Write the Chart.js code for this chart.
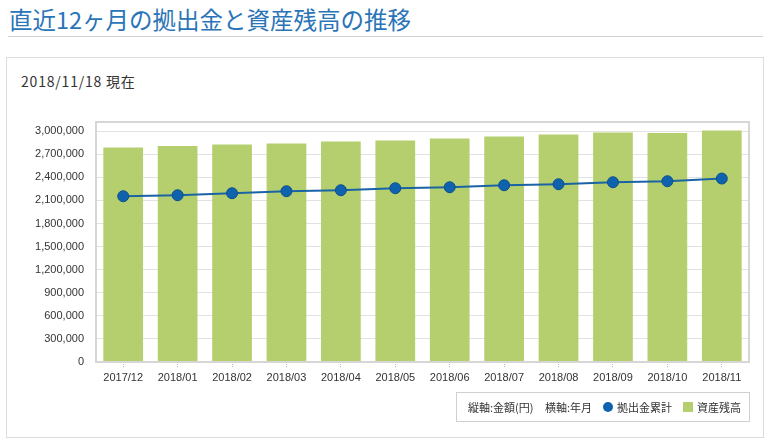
<!DOCTYPE html>
<html><head><meta charset="utf-8">
<script src="https://cdn.jsdelivr.net/npm/chart.js@4/dist/chart.umd.min.js"></script>
<style>
html,body{margin:0;padding:0;background:#fff;width:770px;height:441px;overflow:hidden;font-family:"Liberation Sans",Arial,sans-serif;}
#title{position:absolute;left:9px;top:2px;font-family:"Noto Sans CJK JP",sans-serif;font-size:23.5px;color:#2a74b8;white-space:nowrap;}
#rule{position:absolute;left:8px;top:36px;width:755px;height:1px;background:#cfcfcf;}
#panel{position:absolute;left:6px;top:57px;width:756px;height:379px;border:1px solid #dcdcdc;}
#sub{position:absolute;left:21px;top:71px;font-family:"Noto Sans CJK JP",sans-serif;font-size:14px;letter-spacing:0.8px;color:#333;white-space:nowrap;}
#cv{position:absolute;left:0;top:0;}
#legend{position:absolute;left:456px;top:392px;width:292px;height:28px;border:1px solid #d0d0d0;font-family:"Noto Sans CJK JP",sans-serif;font-size:11px;color:#333;}
#legend span{position:absolute;top:6px;white-space:nowrap;line-height:16px;}
#legend i{position:absolute;display:block;}
</style></head>
<body>
<div id="title">直近12ヶ月の拠出金と資産残高の推移</div>
<div id="rule"></div>
<div id="panel"></div>
<div id="sub">2018/11/18 現在</div>
<canvas id="cv" width="770" height="441"></canvas>
<div id="legend">
  <span style="left:11px">縦軸:金額(円)</span>
  <span style="left:88px">横軸:年月</span>
  <i style="left:146px;top:9px;width:10px;height:10px;border-radius:50%;background:#0f63ad;"></i>
  <span style="left:160px">拠出金累計</span>
  <i style="left:226px;top:9px;width:10px;height:10px;background:#b5cf6f;"></i>
  <span style="left:240px">資産残高</span>
</div>
<script>
const categories = ["2017/12","2018/01","2018/02","2018/03","2018/04","2018/05","2018/06","2018/07","2018/08","2018/09","2018/10","2018/11"];
const assetBalance = [2788000,2809000,2827000,2840000,2866000,2879000,2905000,2931000,2957000,2983000,2978000,3009000];
const contributionTotal = [2155000,2168000,2194000,2220000,2233000,2259000,2272000,2298000,2311000,2337000,2350000,2385000];
const yTicks = [0,300000,600000,900000,1200000,1500000,1800000,2100000,2400000,2700000,3000000];
const yMax = 3120000;

const frame = {
  id:'frame',
  afterDraw(chart){
    const a = chart.chartArea, c = chart.ctx;
    c.save();
    c.strokeStyle = '#d6d6d6';
    c.lineWidth = 2;
    c.strokeRect(a.left, a.top, a.right - a.left, a.bottom - a.top);
    c.restore();
  }
};

new Chart(document.getElementById('cv'), {
  data: {
    labels: categories,
    datasets: [
      {
        type:'line', label:'拠出金累計', data: contributionTotal, order:0,
        borderColor:'#1a64a6', borderWidth:2, tension:0,
        pointRadius:5.5, pointBackgroundColor:'#0f63ad', pointBorderColor:'#0b4f8e', pointBorderWidth:1
      },
      {
        type:'bar', label:'資産残高', data: assetBalance, order:1,
        backgroundColor:'#b5cf6f', borderWidth:0,
        categoryPercentage:0.73, barPercentage:1
      }
    ]
  },
  options: {
    responsive:false, animation:false, devicePixelRatio:1,
    layout:{padding:{left:0,right:21,top:122,bottom:0}},
    plugins:{legend:{display:false}, tooltip:{enabled:false}, title:{display:false}},
    scales:{
      x:{
        offset:true,
        grid:{display:true, offset:false, drawOnChartArea:false, drawTicks:true, tickLength:6, color:'#bbbbbb', tickBorderDash:[1,1]},
        border:{display:false},
        ticks:{color:'#333', font:{family:'"Liberation Sans", Arial, sans-serif', size:11}, padding:3, maxRotation:0, autoSkip:false},
        afterFit(s){ s.height = 79; }
      },
      y:{
        min:0, max:yMax,
        ticks:{color:'#333', padding:12, autoSkip:false, font:{family:'"Liberation Sans", Arial, sans-serif', size:11},
          callback:(v)=> Number(v).toLocaleString('en-US')},
        grid:{color:'#e2e2e2', drawTicks:false, lineWidth:1},
        border:{display:false},
        afterBuildTicks(s){ s.ticks = yTicks.map(v => ({value:v})); },
        afterFit(s){ s.width = 96; }
      }
    }
  },
  plugins:[frame]
});
</script>
</body></html>
